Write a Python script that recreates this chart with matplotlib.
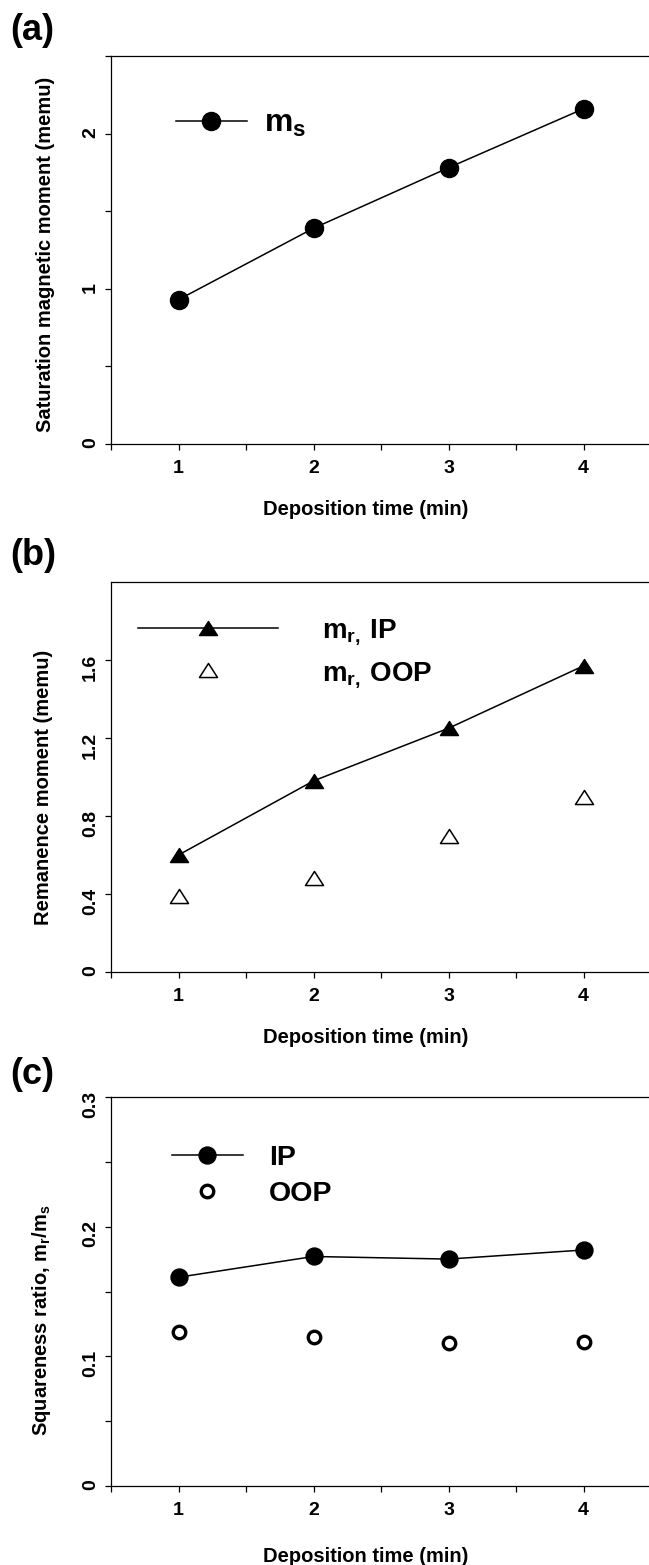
import matplotlib
matplotlib.use('Agg')
import matplotlib.pyplot as plt
from matplotlib.path import Path
from matplotlib.ticker import FixedLocator, MultipleLocator

plt.rcParams['font.family'] = ['Liberation Sans', 'DejaVu Sans']
plt.rcParams['font.weight'] = 'bold'
plt.rcParams['axes.labelweight'] = 'bold'
plt.rcParams['mathtext.fontset'] = 'custom'
plt.rcParams['mathtext.bf'] = 'Liberation Sans:bold'
plt.rcParams['mathtext.rm'] = 'Liberation Sans:bold'
plt.rcParams['mathtext.default'] = 'bf'

# deposition time (min)
time = [1, 2, 3, 4]
# (a) saturation moment (memu)
ms = [0.93, 1.39, 1.78, 2.16]
# (b) remanence moment (memu)
mr_ip = [0.60, 0.98, 1.25, 1.57]
mr_oop = [0.39, 0.48, 0.70, 0.90]
# (c) squareness ratio
sq_ip = [0.161, 0.177, 0.175, 0.182]
sq_oop = [0.119, 0.115, 0.110, 0.111]

xlabel = 'Deposition time (min)'
ylabels = ['Saturation magnetic moment (memu)',
           'Remanence moment (memu)',
           'Squareness ratio, m$_r$/m$_s$']
yticks_a = [0, 1, 2]
yticks_b = [0, 0.4, 0.8, 1.2, 1.6]
yticks_c = [0, 0.1, 0.2, 0.3]
ytl_a = ['0', '1', '2']
ytl_b = ['0', '0.4', '0.8', '1.2', '1.6']
ytl_c = ['0', '0.1', '0.2', '0.3']

W, H = 649, 1565
fig = plt.figure(figsize=(W / 100, H / 100), dpi=100)

def frame(top, bot):
    return [111 / W, 1 - bot / H, 540 / W, (bot - top) / H]

ax_a = fig.add_axes(frame(56, 444))
ax_b = fig.add_axes(frame(582, 972))
ax_c = fig.add_axes(frame(1097, 1486))

# wide triangle like the original plotting program
tri = Path([(-1, -0.78), (1, -0.78), (0, 0.78), (-1, -0.78)],
           [Path.MOVETO, Path.LINETO, Path.LINETO, Path.CLOSEPOLY])

for ax in (ax_a, ax_b, ax_c):
    ax.set_xlim(0.5, 4.5)
    ax.xaxis.set_major_locator(FixedLocator(time))
    ax.xaxis.set_minor_locator(MultipleLocator(0.5))
    ax.tick_params(which='both', direction='out', length=4.5, width=0.9,
                   labelsize=14, top=False, right=False)
    ax.tick_params(axis='y', labelrotation=90, pad=4)
    ax.tick_params(axis='x', pad=7)
    for s in ax.spines.values():
        s.set_linewidth(0.9)

# (a)
ax_a.plot(time, ms, '-o', color='black', lw=1.1, ms=13, label='m$_s$')
ax_a.set_ylim(0, 2.5)
ax_a.set_yticks(yticks_a)
ax_a.set_yticklabels(ytl_a)
ax_a.yaxis.set_minor_locator(MultipleLocator(0.5))
ax_a.legend(loc='center left', bbox_to_anchor=(0.12, 0.825), frameon=False,
            fontsize=23, handlelength=2.22, handletextpad=0.53,
            borderpad=0, borderaxespad=0, numpoints=1)

# (b)
ax_b.plot(time, mr_ip, '-', color='black', lw=1.1, marker=tri, ms=13,
          label=r'm$_{r,}\,$IP')
ax_b.plot(time, mr_oop, linestyle='none', color='black', marker=tri, ms=13,
          mfc='white', mew=1.1, label=r'm$_{r,}\,$OOP')
ax_b.set_ylim(0, 2.0)
ax_b.set_yticks(yticks_b)
ax_b.set_yticklabels(ytl_b)
ax_b.legend(loc='center left', bbox_to_anchor=(0.05, 0.817), frameon=False,
            fontsize=20, handlelength=5.04, handletextpad=1.58,
            labelspacing=0.45, borderpad=0, borderaxespad=0, numpoints=1)

# (c)
ax_c.plot(time, sq_ip, '-o', color='black', lw=1.1, ms=12.2, label='IP')
ax_c.plot(time, sq_oop, linestyle='none', marker='o', color='black', ms=9.0,
          mfc='white', mew=2.4, label='OOP')
ax_c.set_ylim(0, 0.3)
ax_c.set_yticks(yticks_c)
ax_c.set_yticklabels(ytl_c)
ax_c.yaxis.set_minor_locator(MultipleLocator(0.05))
ax_c.legend(loc='center left', bbox_to_anchor=(0.113, 0.797), frameon=False,
            fontsize=20.5, handlelength=2.49, handletextpad=0.91,
            labelspacing=0.32, borderpad=0, borderaxespad=0, numpoints=1)

for ax, yl, lx, ly, xly in ((ax_a, ylabels[0], -0.104, 0.49, -0.144),
                             (ax_b, ylabels[1], -0.107, 0.474, -0.144),
                             (ax_c, ylabels[2], -0.107, 0.427, -0.157)):
    ax.set_xlabel(xlabel, fontsize=14.5)
    ax.set_ylabel(yl, fontsize=14.5)
    ax.xaxis.set_label_coords(0.472, xly)
    ax.yaxis.set_label_coords(lx, ly)

for lab, yc in (('(a)', 30), ('(b)', 555), ('(c)', 1075)):
    fig.text(10 / W, 1 - yc / H, lab, fontsize=26, ha='left', va='center')

fig.savefig('out.png', dpi=100)
